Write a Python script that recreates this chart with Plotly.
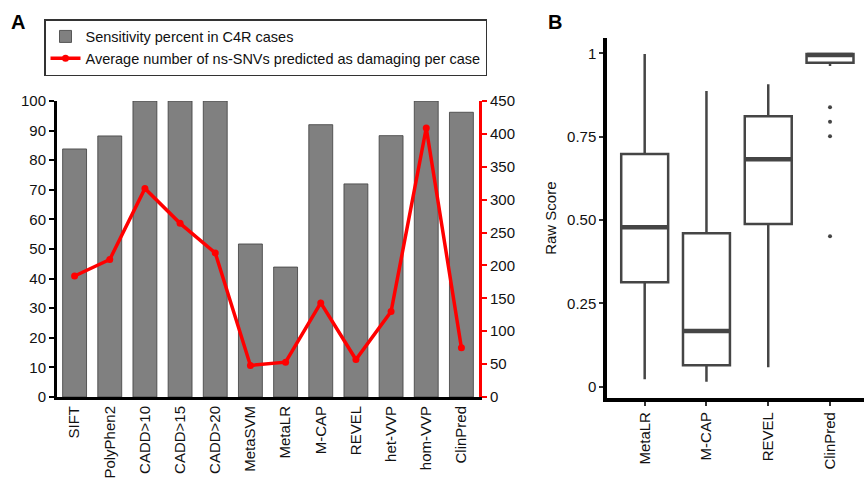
import plotly.graph_objects as go

W, H = 864, 479

# ---------------- Data ----------------
tools_a = ["SIFT", "PolyPhen2", "CADD>10", "CADD>15", "CADD>20", "MetaSVM",
           "MetaLR", "M-CAP", "REVEL", "het-VVP", "hom-VVP", "ClinPred"]
sensitivity = [83.8, 88.2, 100, 100, 100, 51.7, 43.9, 92.0, 72.0, 88.3, 100, 96.2]
avg_damaging = [184, 209, 317, 264, 219, 48, 53, 143, 57, 130, 409, 75]

tools_b = ["MetaLR", "M-CAP", "REVEL", "ClinPred"]
lowerfence = [0.022, 0.015, 0.058, 0.962]
q1 = [0.313, 0.064, 0.488, 0.972]
median = [0.478, 0.167, 0.682, 0.995]
q3 = [0.698, 0.460, 0.811, 0.998]
upperfence = [0.998, 0.887, 0.907, 1.0]
outlier_tool = ["ClinPred", "ClinPred", "ClinPred", "ClinPred"]
outlier_val = [0.838, 0.795, 0.751, 0.451]

FONT = "Liberation Sans, Arial, sans-serif"


def px_x(p):
    return p / W


def px_y(p):
    return 1 - p / H


fig = go.Figure()

# Panel A
fig.add_trace(go.Bar(
    x=tools_a, y=sensitivity, name="Sensitivity percent in C4R cases",
    marker=dict(color="#808080", line=dict(color="#3c3c3c", width=0.8)),
    xaxis="x", yaxis="y",
))
fig.add_trace(go.Scatter(
    x=tools_a, y=avg_damaging, mode="lines+markers",
    name="Average number of ns-SNVs predicted as damaging per case",
    line=dict(color="#ff0000", width=3.5), marker=dict(color="#ff0000", size=7),
    xaxis="x", yaxis="y2",
))

# Panel B
fig.add_trace(go.Box(
    x=tools_b, q1=q1, median=median, q3=q3,
    lowerfence=lowerfence, upperfence=upperfence,
    width=0.76, whiskerwidth=0,
    fillcolor="white", line=dict(color="#454545", width=2.5),
    showlegend=False, xaxis="x3", yaxis="y3", hoverinfo="skip",
))
fig.add_trace(go.Scatter(
    x=outlier_tool, y=outlier_val, mode="markers",
    marker=dict(color="#454545", size=4), showlegend=False,
    xaxis="x3", yaxis="y3",
))

# thicker median lines (ggplot style), derived from data
shapes = []
for i, m in enumerate(median):
    shapes.append(dict(type="line", xref="x3", yref="y3",
                       x0=i - 0.37, x1=i + 0.37, y0=m, y1=m,
                       line=dict(color="#454545", width=4.5)))

ydom_a = [px_y(397), px_y(101)]
xdom_a = [px_x(57), px_x(479)]
ydom_b = [px_y(398.3), px_y(38)]
xdom_b = [px_x(607), 1.0]

tickfont = dict(family=FONT, size=15, color="#111")

fig.update_layout(
    width=W, height=H,
    margin=dict(l=0, r=0, t=0, b=0, autoexpand=False),
    paper_bgcolor="white", plot_bgcolor="white",
    font=dict(family=FONT, size=15, color="#111"),
    bargap=0.32,
    showlegend=True,
    legend=dict(
        x=px_x(44), y=px_y(19), xanchor="left", yanchor="top",
        bordercolor="#333", borderwidth=1.5, bgcolor="white",
        font=dict(family=FONT, size=14.5, color="#111"),
        tracegroupgap=0,
    ),
    xaxis=dict(domain=xdom_a, range=[-0.5, 11.5], showline=True, linecolor="black",
               linewidth=3, ticks="", tickangle=-90, tickfont=tickfont,
               showgrid=False, zeroline=False, anchor="y", automargin=False),
    yaxis=dict(domain=ydom_a, range=[0, 100], dtick=10, showline=True,
               linecolor="black", linewidth=3, ticks="outside", ticklen=5,
               tickwidth=2, tickcolor="black", tickfont=tickfont,
               showgrid=False, zeroline=False, anchor="x", automargin=False),
    yaxis2=dict(domain=ydom_a, range=[0, 450], dtick=50, overlaying="y", side="right",
                showline=True, linecolor="#ff0000", linewidth=3, ticks="outside",
                ticklen=5, tickwidth=2, tickcolor="#ff0000", tickfont=tickfont,
                showgrid=False, zeroline=False, anchor="x", automargin=False),
    xaxis3=dict(domain=xdom_b, range=[-0.61, 3.55], showline=True, linecolor="black",
                linewidth=3.5, ticks="outside", ticklen=4, tickwidth=2, tickcolor="#333",
                tickangle=-90, tickfont=tickfont, showgrid=False, zeroline=False,
                anchor="y3", automargin=False),
    yaxis3=dict(domain=ydom_b, range=[-0.035, 1.046], showline=True, linecolor="black",
                linewidth=3.5, ticks="outside", ticklen=4, tickwidth=2, tickcolor="#333",
                tickvals=[0, 0.25, 0.5, 0.75, 1], ticktext=["0", "0.25", "0.50", "0.75", "1"],
                tickfont=tickfont, showgrid=False, zeroline=False, anchor="x3",
                automargin=False,
                title=dict(text="Raw Score", font=dict(family=FONT, size=15, color="#111"),
                           standoff=8)),
    shapes=shapes,
    annotations=[
        dict(text="<b>A</b>", x=px_x(9), y=px_y(22), xref="paper", yref="paper",
             xanchor="left", yanchor="middle", showarrow=False,
             font=dict(family=FONT, size=20, color="black")),
        dict(text="<b>B</b>", x=px_x(546), y=px_y(22), xref="paper", yref="paper",
             xanchor="left", yanchor="middle", showarrow=False,
             font=dict(family=FONT, size=20, color="black")),
    ],
)

fig.write_html(
    "out.html",
    config={"displayModeBar": False},
    post_script="document.body.style.margin='0';document.body.style.overflow='hidden';",
)
